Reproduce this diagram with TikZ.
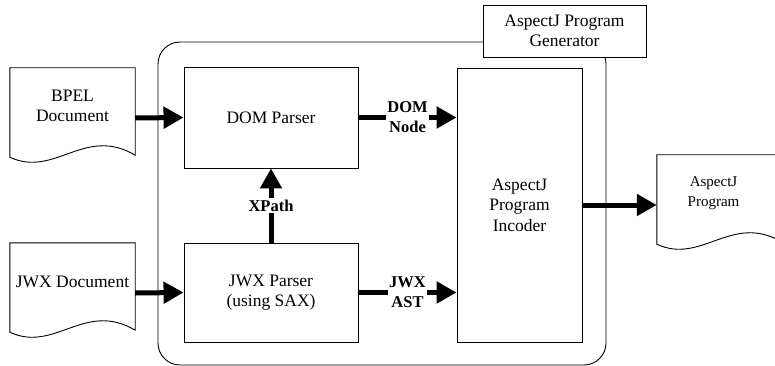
\documentclass[tikz,border=0pt]{standalone}
\usepackage{fontspec}
\setmainfont{Liberation Serif}
\usetikzlibrary{arrows.meta,calc}
\tikzset{
	box/.style={draw, line width=0.9pt, inner sep=0pt, align=center},
	doc/.style={minimum width=125pt, minimum height=100pt, inner sep=0pt},
	flow/.style={line width=5pt, -{Triangle[length=20pt,width=21pt]}},
	tag/.style={fill=white, inner sep=1.5pt, align=center, font=\fontsize{16.5}{20}\selectfont\bfseries}
}
\newcommand\docshape[1]{\draw [line width=0.9pt] (#1.north west) -- (#1.north east) -- ($(#1.south east)+(0,-13)$) .. controls ($(#1.south west)+(75,-43)$) and ($(#1.south west)+(45,10)$) .. ($(#1.south west)+(0,-11)$) -- cycle;}
\begin{document}
\begin{tikzpicture}[x=1pt, y=-1pt, every node/.style={font=\fontsize{17.5}{20.5}\selectfont}]
		\useasboundingbox (0,0) rectangle (775,366);
		\clip (0,0) rectangle (775,366);
		\node [box, rounded corners=22pt, minimum width=448pt, minimum height=323pt] (frame) at (382,203.5) {};
		\node [box, fill=white, minimum width=163pt, minimum height=52pt] (gen) at (564.5,31) {AspectJ Program\\Generator};
		\node [box, minimum width=174pt, minimum height=101pt] (dom) at (271,117.5) {DOM Parser};
		\node [box, minimum width=174pt, minimum height=99pt] (jwxp) at (271,292.5) {JWX Parser\\(using SAX)};
		\node [box, minimum width=125pt, minimum height=274pt] (inc) at (519.5,205) {AspectJ\\Program\\Incoder};
		\node [doc, label={[align=center, yshift=12pt]center:{BPEL\\Document}}] (bpel) at (72.5,118) {};
		\node [doc, label={[yshift=11pt]center:{JWX Document}}] (jwxd) at (72.5,293) {};
		\node [doc, label={[align=center, yshift=12pt, xshift=-6pt, font=\fontsize{15}{20}\selectfont]center:{AspectJ\\Program}}] (ajp) at (719.5,205) {};
		\docshape{bpel}
		\docshape{jwxd}
		\docshape{ajp}
		\draw [flow] (bpel.east) -- (dom.west);
		\draw [flow] (jwxd.east) -- (jwxp.west);
		\draw [flow] (jwxp.north) -- node [tag] {XPath} (dom.south);
		\draw [flow] (dom.east) -- node [tag] {DOM\\Node} (dom.east -| inc.west);
		\draw [flow] (jwxp.east) -- node [tag] {JWX\\AST} (jwxp.east -| inc.west);
		\draw [flow] (inc.east) -- (ajp.west);
		\end{tikzpicture}
\end{document}
